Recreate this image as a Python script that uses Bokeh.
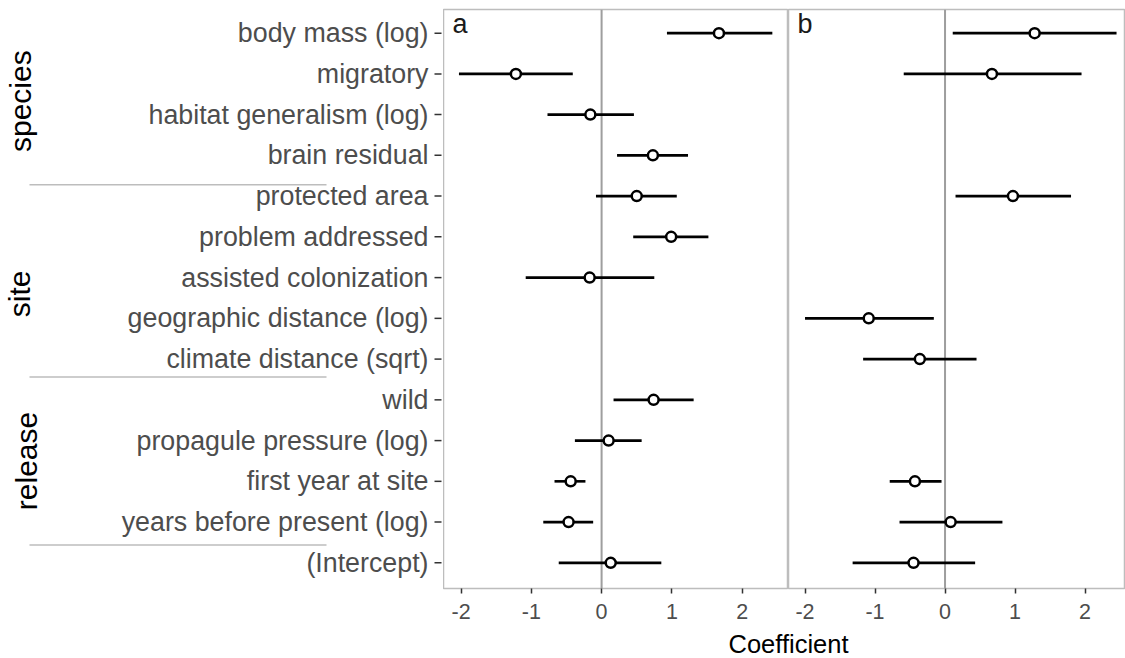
import math
from bokeh.plotting import figure
from bokeh.models import ColumnDataSource, Range1d, FixedTicker, Label, Span
from bokeh.layouts import row, column
from bokeh.embed import file_html
from bokeh.resources import INLINE
from bokeh.core.properties import value

NAN = float("nan")

# ---------------- data (top row first) ----------------
terms = ["body mass (log)", "migratory", "habitat generalism (log)", "brain residual",
         "protected area", "problem addressed", "assisted colonization",
         "geographic distance (log)", "climate distance (sqrt)", "wild",
         "propagule pressure (log)", "first year at site", "years before present (log)",
         "(Intercept)"]

est_a = [1.67, -1.22, -0.16, 0.73, 0.50, 0.99, -0.17, NAN, NAN, 0.74, 0.10, -0.44, -0.47, 0.13]
lo_a  = [0.93, -2.03, -0.77, 0.22, -0.08, 0.45, -1.08, NAN, NAN, 0.17, -0.38, -0.67, -0.83, -0.61]
hi_a  = [2.43, -0.41, 0.46, 1.23, 1.07, 1.52, 0.75, NAN, NAN, 1.31, 0.57, -0.23, -0.12, 0.85]

est_b = [1.28, 0.67, NAN, NAN, 0.97, NAN, NAN, -1.09, -0.36, NAN, NAN, -0.43, 0.08, -0.45]
lo_b  = [0.11, -0.59, NAN, NAN, 0.15, NAN, NAN, -2.00, -1.17, NAN, NAN, -0.79, -0.65, -1.32]
hi_b  = [2.45, 1.95, NAN, NAN, 1.80, NAN, NAN, -0.16, 0.45, NAN, NAN, -0.05, 0.82, 0.43]

groups = ["species", "site", "release"]
x_ticks = [-2, -1, 0, 1, 2]
x_tick_labels = ["-2", "-1", "0", "1", "2"]
panel_labels = ["a", "b"]
x_title = "Coefficient"

# ---------------- layout / style ----------------
FONT = "Liberation Sans"
TXT_GREY = "#4D4D4D"
TICK_COL = "#333333"
BORDER = "#BDBDBD"
ZERO_COL = "#9E9E9E"

TOP = 9
BOTTOM = 41
ROW_H = 629
L_W, A_W, B_W = 443, 345, 337

n = len(terms)
ypos = [n - i for i in range(n)]
y_range = Range1d(0.37, n + 0.58)

group_y = [12.33, 7.60, 3.50]      # label centres (layout)
group_mid_x = [20, 19, 26]
sep_y = [10.28, 5.56, 1.44]         # separator lines (layout)


def base_fig(width, height, x_range, y_range, **kw):
    p = figure(width=width, height=height, x_range=x_range, y_range=y_range,
               toolbar_location=None, output_backend="svg", **kw)
    p.background_fill_color = "white"
    p.border_fill_color = "white"
    p.min_border_left = 0
    p.min_border_right = 0
    return p


# ---------------- left label column ----------------
L = base_fig(L_W, ROW_H, Range1d(0, L_W), y_range,
             x_axis_location=None, y_axis_location=None)
L.min_border_top = TOP
L.min_border_bottom = BOTTOM
L.outline_line_color = None
L.grid.visible = False

L.text(x=428, y=ypos, text=terms, text_align="right", text_baseline="middle",
       text_font=value(FONT), text_font_size="26.8px", text_color=TXT_GREY)
L.segment(x0=434, x1=441, y0=ypos, y1=ypos, line_color=TICK_COL, line_width=1.5)
L.text(x=group_mid_x, y=group_y, text=groups, angle=math.pi / 2,
       text_align="center", text_baseline="middle",
       text_font=value(FONT), text_font_size="30px", text_color="black")
L.segment(x0=29, x1=326, y0=sep_y, y1=sep_y, line_color=BORDER, line_width=1.5)


# ---------------- panels ----------------
def panel(width, xr, est, lo, hi, label):
    p = base_fig(width, ROW_H, xr, y_range, y_axis_location=None)
    p.min_border_top = TOP
    p.min_border_bottom = BOTTOM
    p.grid.visible = False
    p.outline_line_color = BORDER
    p.outline_line_width = 1.5

    ax = p.xaxis[0]
    ax.ticker = FixedTicker(ticks=x_ticks)
    ax.major_label_overrides = {t: s for t, s in zip(x_ticks, x_tick_labels)}
    ax.axis_line_color = None
    ax.major_tick_out = 5
    ax.major_tick_in = 0
    ax.minor_tick_line_color = None
    ax.major_tick_line_color = TICK_COL
    ax.major_tick_line_width = 1.5
    ax.major_label_standoff = 10
    ax.major_label_text_font = FONT
    ax.major_label_text_font_size = "21.5px"
    ax.major_label_text_color = TXT_GREY

    p.add_layout(Span(location=0, dimension="height", line_color=ZERO_COL,
                      line_width=2, level="underlay"))

    keep = [i for i in range(n) if not math.isnan(est[i])]
    src = ColumnDataSource(dict(
        y=[ypos[i] for i in keep],
        est=[est[i] for i in keep],
        lo=[lo[i] for i in keep],
        hi=[hi[i] for i in keep],
    ))
    p.segment(x0="lo", x1="hi", y0="y", y1="y", source=src,
              line_color="black", line_width=2.6)
    p.scatter(x="est", y="y", source=src, marker="circle", size=10,
              fill_color="white", line_color="black", line_width=2.5)

    p.add_layout(Label(x=xr.start, y=y_range.end, x_offset=9, y_offset=-14,
                       text=label, text_font=FONT, text_font_size="27px",
                       text_color="#1A1A1A", text_baseline="middle"))
    return p


A = panel(A_W, Range1d(-2.25, 2.66), est_a, lo_a, hi_a, panel_labels[0])
B = panel(B_W, Range1d(-2.236, 2.578), est_b, lo_b, hi_b, panel_labels[1])

# ---------------- x title strip ----------------
T_H = 658 - ROW_H
T = base_fig(L_W + A_W + B_W, T_H, Range1d(0, L_W + A_W + B_W), Range1d(0, T_H),
             x_axis_location=None, y_axis_location=None)
T.min_border_top = 0
T.min_border_bottom = 0
T.outline_line_color = None
T.grid.visible = False
T.add_layout(Label(x=L_W + A_W, y=14.6, text=x_title, text_align="center",
                   text_baseline="middle", text_font=FONT,
                   text_font_size="25.5px", text_color="black"))

layout = column(row(L, A, B, spacing=0), T, spacing=0)

with open("out.html", "w") as f:
    f.write(file_html(layout, INLINE))
